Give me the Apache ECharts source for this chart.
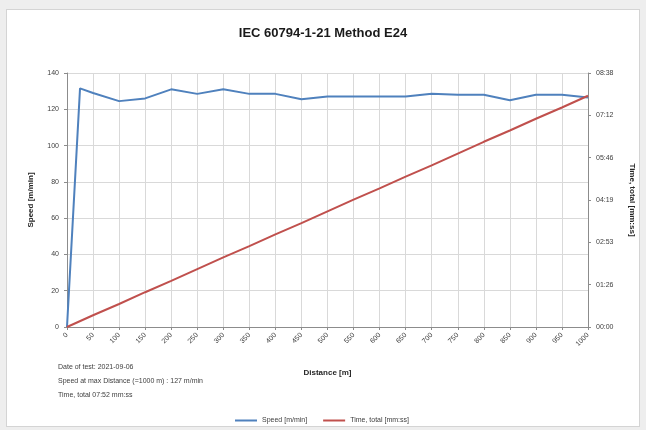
<!DOCTYPE html>
<html>
<head>
<meta charset="utf-8">
<script src="https://cdn.jsdelivr.net/npm/echarts@6/dist/echarts.min.js"></script>
<style>
  html, body { margin: 0; padding: 0; background: #eeeeee; }
  #frame { position: absolute; left: 6px; top: 9px; width: 632px; height: 416px; background: #fff; border: 1px solid #d4d4d4; }
  #main { position: absolute; left: 0; top: 0; width: 646px; height: 430px; }
</style>
</head>
<body>
<div id="frame"></div>
<div id="main"></div>
<script>
// distance [m] where the speed was logged
var speedDistance = [0, 25, 50, 100, 150, 200, 250, 300, 350, 400, 450, 500, 550, 600, 650, 700, 750, 800, 850, 900, 950, 1000];
var speedValues  = [0, 131.5, 129, 124.5, 126, 131, 128.5, 131, 128.5, 128.5, 125.5, 127, 127, 127, 127, 128.5, 128, 128, 125, 128, 128, 126.5];

// cumulative time [s] at each 50 m
var timeDistance = [0, 50, 100, 150, 200, 250, 300, 350, 400, 450, 500, 550, 600, 650, 700, 750, 800, 850, 900, 950, 1000];
var timeValues   = [0, 24, 47, 71, 94, 118, 142, 165, 189, 212, 236, 260, 283, 307, 330, 354, 378, 401, 425, 448, 472];

var infoLines = [
  'Date of test: 2021-09-06',
  'Speed at max Distance (=1000 m) : 127 m/min',
  'Time, total 07:52 mm:ss'
];

function mmss(v) {
  var s = Math.round(v);
  var m = Math.floor(s / 60);
  var r = s % 60;
  return (m < 10 ? '0' : '') + m + ':' + (r < 10 ? '0' : '') + r;
}

function pairs(xs, ys) {
  return xs.map(function (x, i) { return [x, ys[i]]; });
}

var font = 'Liberation Sans';
var txt = '#404040';
var gridColor = '#d9d9d9';
var axisColor = '#8c8c8c';

var chart = echarts.init(document.getElementById('main'));
chart.setOption({
  animation: false,
  textStyle: { fontFamily: font },
  title: {
    text: 'IEC 60794-1-21 Method E24',
    left: 'center',
    top: 22,
    textStyle: { fontSize: 13, fontWeight: 'bold', color: '#1a1a1a', fontFamily: font }
  },
  grid: { left: 67, right: 58, top: 73, bottom: 103 },
  legend: {
    left: 230,
    top: 412,
    itemWidth: 22,
    itemHeight: 2,
    itemGap: 16,
    icon: 'rect',
    textStyle: { fontSize: 7, color: txt },
    data: ['Speed [m/min]', 'Time, total [mm:ss]']
  },
  xAxis: {
    type: 'value',
    min: 0, max: 1000, interval: 50,
    name: 'Distance [m]',
    nameLocation: 'middle',
    nameGap: 42,
    nameTextStyle: { fontSize: 8, fontWeight: 'bold', color: '#262626' },
    axisLine: { lineStyle: { color: axisColor } },
    axisTick: { show: true, length: 3, lineStyle: { color: axisColor } },
    axisLabel: { rotate: 45, fontSize: 7, color: txt, margin: 7, formatter: function (v) { return String(v); } },
    splitLine: { show: true, lineStyle: { color: gridColor } }
  },
  yAxis: [{
    type: 'value',
    min: 0, max: 140, interval: 20,
    name: 'Speed [m/min]',
    nameLocation: 'middle',
    nameGap: 32,
    nameTextStyle: { fontSize: 8, fontWeight: 'bold', color: '#262626' },
    axisLine: { show: true, lineStyle: { color: axisColor } },
    axisTick: { show: true, length: 3, lineStyle: { color: axisColor } },
    axisLabel: { fontSize: 7, color: txt, margin: 8 },
    splitLine: { show: true, lineStyle: { color: gridColor } }
  }, {
    type: 'value',
    min: 0, max: 518.4, interval: 86.4,
    name: 'Time, total [mm:ss]',
    nameLocation: 'middle',
    nameGap: 40,
    nameRotate: -90,
    nameTextStyle: { fontSize: 8, fontWeight: 'bold', color: '#262626' },
    axisLine: { show: true, lineStyle: { color: axisColor } },
    axisTick: { show: true, length: 3, lineStyle: { color: axisColor } },
    axisLabel: { fontSize: 7, color: txt, margin: 8, formatter: mmss },
    splitLine: { show: false }
  }],
  graphic: infoLines.map(function (t, i) {
    return {
      type: 'text', left: 58, top: 364 + i * 14,
      style: { text: t, fontSize: 7, fill: txt, fontFamily: font }
    };
  }),
  series: [{
    name: 'Speed [m/min]',
    type: 'line',
    yAxisIndex: 0,
    showSymbol: false,
    data: pairs(speedDistance, speedValues),
    lineStyle: { width: 2, color: '#4f81bd' },
    itemStyle: { color: '#4f81bd' }
  }, {
    name: 'Time, total [mm:ss]',
    type: 'line',
    yAxisIndex: 1,
    showSymbol: false,
    data: pairs(timeDistance, timeValues),
    lineStyle: { width: 2, color: '#c0504d' },
    itemStyle: { color: '#c0504d' }
  }]
});
</script>
</body>
</html>
